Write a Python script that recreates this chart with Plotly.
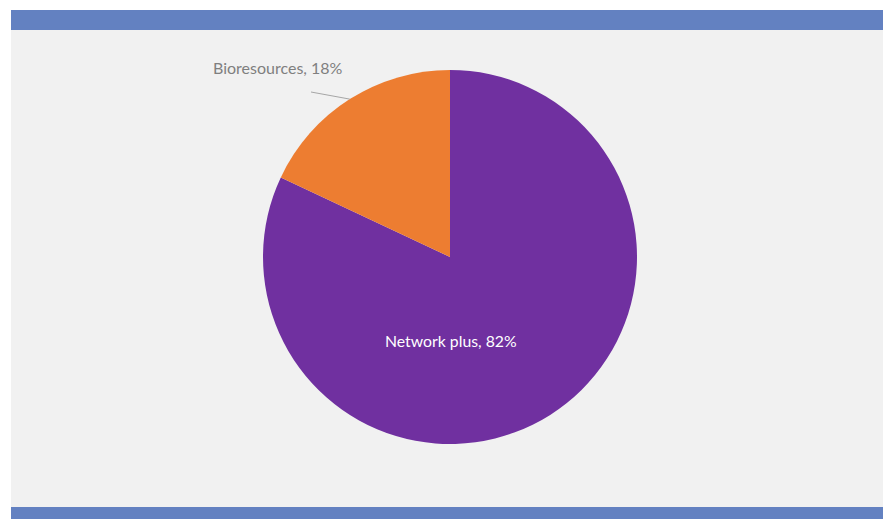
import math
import plotly.graph_objects as go

# Funding split
categories = ["Network plus", "Bioresources"]
shares = [82, 18]
slice_colors = ["#7030A0", "#ED7D31"]

W, H = 883, 519
CX, CY, R = 450, 257, 187  # pie centre and radius in pixels


def px(x):
    return x / W


def py(y):
    return 1 - y / H


fig = go.Figure(
    go.Pie(
        labels=categories,
        values=shares,
        marker=dict(colors=slice_colors, line=dict(width=0)),
        sort=False,
        direction="clockwise",
        rotation=0,
        textinfo="none",
        hoverinfo="label+percent",
        showlegend=False,
        domain=dict(x=[px(CX - R), px(CX + R)], y=[py(CY + R), py(CY - R)]),
    )
)

# Frame: grey panel with blue bands top and bottom
shapes = [
    dict(type="rect", xref="paper", yref="paper", x0=px(11), x1=1, y0=py(507), y1=py(30),
         fillcolor="#F1F1F1", line=dict(width=0), layer="below"),
    dict(type="rect", xref="paper", yref="paper", x0=px(11), x1=1, y0=py(30), y1=py(10),
         fillcolor="#6381C1", line=dict(width=0), layer="below"),
    dict(type="rect", xref="paper", yref="paper", x0=px(11), x1=1, y0=0, y1=py(507),
         fillcolor="#6381C1", line=dict(width=0), layer="below"),
]

# Leader line from the middle of the Bioresources slice edge out to its label
total = sum(shares)
mid_deg = 360 * (shares[0] + shares[1] / 2) / total  # clockwise from 12 o'clock
ex = CX + R * math.sin(math.radians(mid_deg))
ey = CY - R * math.cos(math.radians(mid_deg))
shapes.append(dict(type="line", xref="paper", yref="paper",
                   x0=px(ex), y0=py(ey), x1=px(311), y1=py(92),
                   line=dict(color="#A6A6A6", width=1)))

annotations = [
    dict(text=f"{categories[0]}, {shares[0]}%", x=px(451), y=py(340), xref="paper", yref="paper",
         showarrow=False, font=dict(family="Lato", size=15.8, color="#FFFFFF"),
         xanchor="center", yanchor="middle"),
    dict(text=f"{categories[1]}, {shares[1]}%", x=px(278), y=py(67), xref="paper", yref="paper",
         showarrow=False, font=dict(family="Lato", size=16, color="#7F7F7F"),
         xanchor="center", yanchor="middle"),
]

fig.update_layout(
    width=W, height=H,
    margin=dict(l=0, r=0, t=0, b=0),
    paper_bgcolor="#FFFFFF",
    plot_bgcolor="#FFFFFF",
    shapes=shapes,
    annotations=annotations,
)

fig.write_html("out.html")
